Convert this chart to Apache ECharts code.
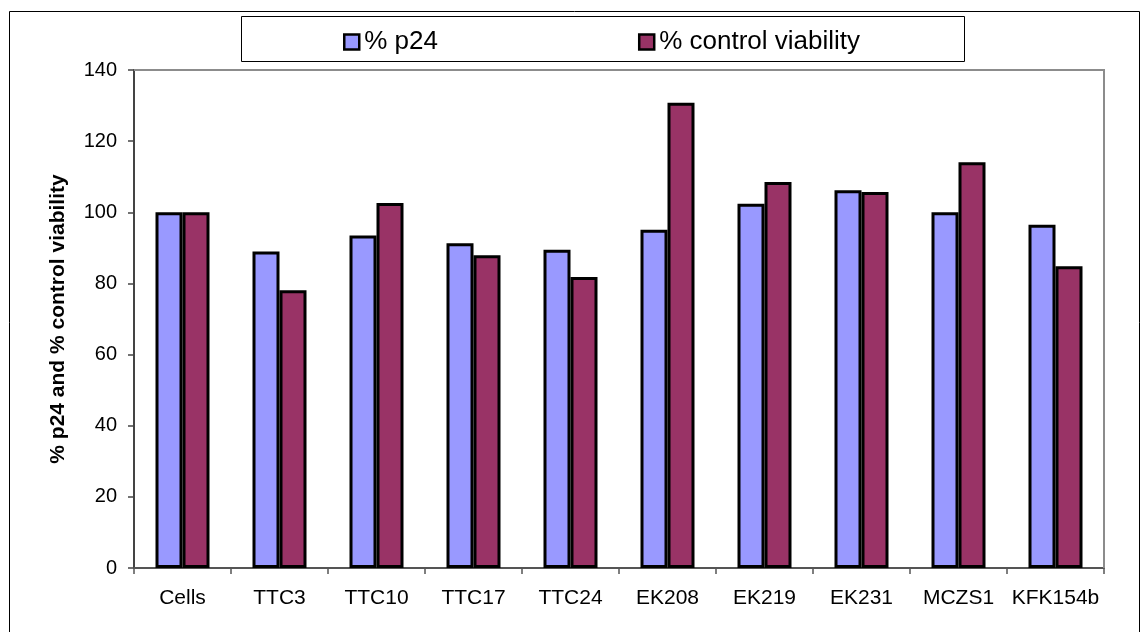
<!DOCTYPE html>
<html>
<head>
<meta charset="utf-8">
<script src="https://cdn.jsdelivr.net/npm/echarts@6/dist/echarts.min.js"></script>
<style>
  html, body { margin: 0; padding: 0; background: #ffffff; }
  #chart { width: 1148px; height: 632px; }
</style>
</head>
<body>
<div id="chart"></div>
<script>
// Samples tested, in axis order
const categories = ['Cells', 'TTC3', 'TTC10', 'TTC17', 'TTC24', 'EK208', 'EK219', 'EK231', 'MCZS1', 'KFK154b'];
// % p24 relative to untreated cells
const p24 = [100, 89.0, 93.5, 91.3, 89.5, 95.1, 102.4, 106.2, 100, 96.5];
// % viability relative to untreated cells
const viability = [100, 78.1, 102.6, 87.9, 81.8, 130.8, 108.5, 105.7, 114.1, 84.8];
// Value axis range
const yMin = 0, yMax = 140, yStep = 20;
const seriesNames = ['% p24', '% control viability'];
const yTitle = '% p24 and % control viability';

const FONT = '"Liberation Sans", Arial, sans-serif';
const chart = echarts.init(document.getElementById('chart'), null, { renderer: 'canvas' });

chart.setOption({
  animation: false,
  backgroundColor: '#ffffff',
  graphic: [
    { type: 'rect', z: -10, shape: { x: 9.5, y: 11.5, width: 1130, height: 640 },
      style: { fill: '#ffffff', stroke: '#000000', lineWidth: 1 } },
    { type: 'rect', z: -5, shape: { x: 241.5, y: 16.5, width: 723, height: 45 },
      style: { fill: '#ffffff', stroke: '#000000', lineWidth: 1 } },
    // plot area frame (top and right edges)
    { type: 'polyline', z: 5, shape: { points: [[134, 70], [1104, 70], [1104, 568]] },
      style: { stroke: '#8c8c8c', lineWidth: 2, fill: null } }
  ],
  legend: {
    data: seriesNames,
    left: 343,
    top: 29,
    itemWidth: 15,
    itemHeight: 15,
    itemGap: 200,
    padding: 0,
    icon: 'rect',
    textStyle: { fontFamily: FONT, fontSize: 26, color: '#000000' },
    itemStyle: { borderColor: '#000000', borderWidth: 2.5 }
  },
  grid: { left: 134, right: 44, top: 70, bottom: 64, containLabel: false },
  xAxis: {
    type: 'category',
    data: categories,
    boundaryGap: true,
    axisLine: { lineStyle: { color: '#555555', width: 2 } },
    axisTick: { show: true, length: 6, alignWithLabel: false, lineStyle: { color: '#555555', width: 1.5 } },
    axisLabel: { fontFamily: FONT, fontSize: 21, color: '#000000', margin: 20, interval: 0 },
    splitLine: { show: false }
  },
  yAxis: {
    type: 'value',
    min: yMin,
    max: yMax,
    interval: yStep,
    name: yTitle,
    nameLocation: 'middle',
    nameGap: 65,
    nameTextStyle: { fontFamily: FONT, fontSize: 21, fontWeight: 'bold', color: '#000000' },
    axisLine: { show: true, lineStyle: { color: '#444444', width: 2 } },
    axisTick: { show: true, length: 6, inside: false, lineStyle: { color: '#444444', width: 1.5 } },
    axisLabel: { fontFamily: FONT, fontSize: 20, color: '#000000', margin: 17 },
    splitLine: { show: false }
  },
  series: [
    {
      name: seriesNames[0],
      type: 'bar',
      data: p24,
      barWidth: 27,
      barGap: '0%',
      itemStyle: { color: '#9999FF', borderColor: '#000000', borderWidth: 3 }
    },
    {
      name: seriesNames[1],
      type: 'bar',
      data: viability,
      barWidth: 27,
      barGap: '0%',
      itemStyle: { color: '#993366', borderColor: '#000000', borderWidth: 3 }
    }
  ]
});
</script>
</body>
</html>
